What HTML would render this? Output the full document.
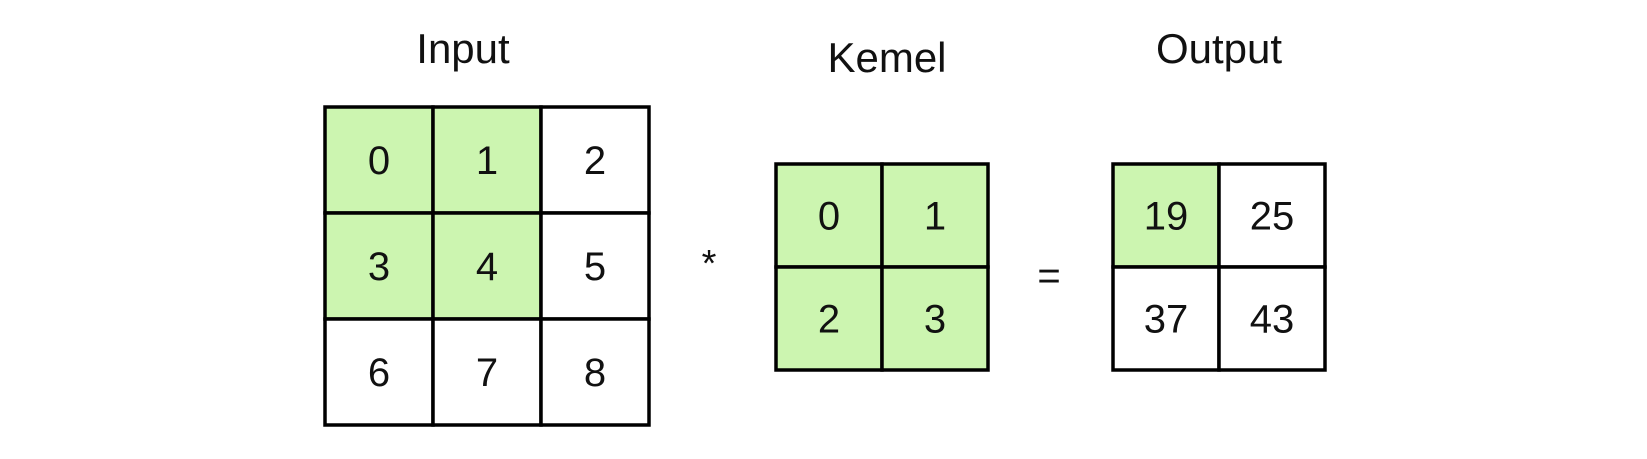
<!DOCTYPE html>
<html><head><meta charset="utf-8"><style>
html,body{margin:0;padding:0;background:#fff;}
body{width:1647px;height:454px;overflow:hidden;position:relative;font-family:"Liberation Sans","DejaVu Sans",sans-serif;}
svg text{font-family:"Liberation Sans","DejaVu Sans",sans-serif;fill:#111;}
</style></head><body>
<svg id="fig" width="1647" height="454" viewBox="0 0 1647 454" xmlns="http://www.w3.org/2000/svg">
<text x="463" y="63" font-size="42" text-anchor="middle">Input</text>
<text x="887" y="72" font-size="42" text-anchor="middle">Kemel</text>
<text x="1219" y="63" font-size="42" text-anchor="middle">Output</text>
<text x="709" y="276" font-size="38" text-anchor="middle">*</text>
<text x="1049" y="289" font-size="40" text-anchor="middle">=</text>
<g id="grids"></g>
</svg>
<script>
const inputValues = [[0,1,2],[3,4,5],[6,7,8]];
const inputHighlight = [[1,1,0],[1,1,0],[0,0,0]];
const kernelValues = [[0,1],[2,3]];
const kernelHighlight = [[1,1],[1,1]];
const outputValues = [[19,25],[37,43]];
const outputHighlight = [[1,0],[0,0]];
const NS='http://www.w3.org/2000/svg';
const g=document.getElementById('grids');
function grid(name, vals, hl, x0, y0, cw, ch){
  const grp=document.createElementNS(NS,'g');
  
  
  g.appendChild(grp);
  vals.forEach((row,r)=>row.forEach((v,c)=>{
    const rect=document.createElementNS(NS,'rect');
    
    
    rect.setAttribute('x', x0+c*cw); rect.setAttribute('y', y0+r*ch);
    rect.setAttribute('width', cw); rect.setAttribute('height', ch);
    rect.setAttribute('fill', hl[r][c]?'#ccf5b0':'#ffffff');
    rect.setAttribute('stroke','#000'); rect.setAttribute('stroke-width','3.5');
    grp.appendChild(rect);
    const t=document.createElementNS(NS,'text');
    
    
    t.setAttribute('x', x0+c*cw+cw/2); t.setAttribute('y', y0+r*ch+ch/2+14);
    t.setAttribute('font-size','40'); t.setAttribute('text-anchor','middle');
    t.textContent=v;
    grp.appendChild(t);
  }));
}
grid('input-grid', inputValues, inputHighlight, 325, 107, 108, 106);
grid('kernel-grid', kernelValues, kernelHighlight, 776, 164, 106, 103);
grid('output-grid', outputValues, outputHighlight, 1113, 164, 106, 103);
</script>
</body></html>
